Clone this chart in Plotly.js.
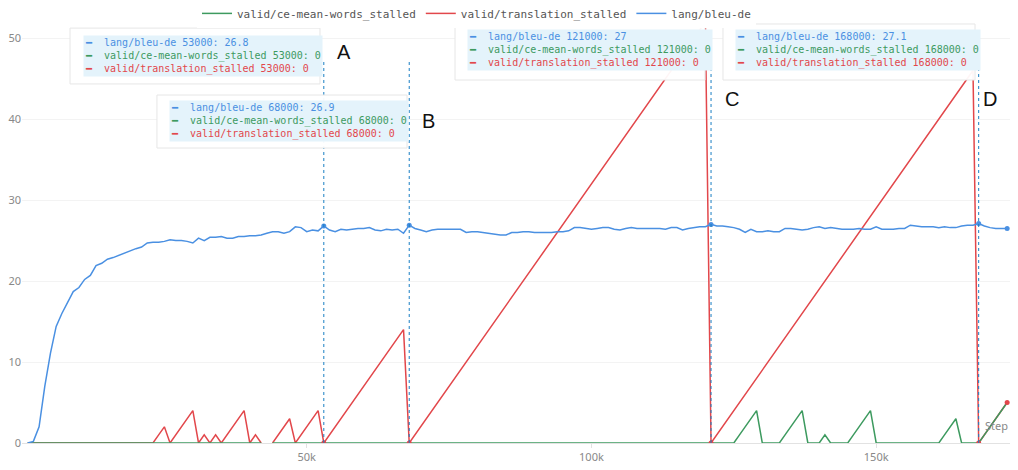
<!DOCTYPE html>
<html>
<head>
<meta charset="utf-8">
<script src="https://cdn.plot.ly/plotly-3.0.1.min.js"></script>
<style>html,body{margin:0;padding:0;background:#fff;} #chart{width:1018px;height:470px;}</style>
</head>
<body>
<div id="chart"></div>
<script>
// step axis: 1000 .. 173000
var steps = Array.from({length: 173}, function(_, i) { return (i + 1) * 1000; });

var bleu_de = [
	0,0.2,2.0,7.0,11.1,14.4,16.0,17.3,18.7,19.2,
	20.2,20.7,21.9,22.2,22.7,22.9,23.2,23.4,23.7,24.0,
	24.2,24.7,24.8,24.8,24.9,25.1,25.0,25.0,24.9,24.7,
	25.3,25.0,25.4,25.4,25.5,25.3,25.3,25.5,25.5,25.6,
	25.6,25.7,25.9,26.1,26.1,25.9,26.1,26.7,26.6,26.1,
	26.3,26.2,26.8,26.3,26.1,26.4,26.3,26.4,26.5,26.5,
	26.6,26.3,26.2,26.4,26.3,26.4,25.9,26.9,26.5,26.3,
	26.1,26.3,26.4,26.4,26.4,26.4,26.4,26.0,26.1,26.1,
	26.0,25.9,25.8,25.7,25.7,26.0,26.0,26.1,26.1,26.0,
	26.0,26.0,26.0,26.1,26.1,26.2,26.6,26.6,26.5,26.4,
	26.5,26.6,26.6,26.4,26.3,26.5,26.6,26.5,26.5,26.5,
	26.5,26.5,26.4,26.6,26.6,26.3,26.5,26.6,26.7,26.7,
	27.0,26.8,26.8,26.7,26.6,26.4,26.0,26.4,26.1,26.1,
	26.2,26.1,26.1,26.5,26.5,26.4,26.3,26.4,26.6,26.7,
	26.5,26.6,26.5,26.4,26.4,26.4,26.5,26.4,26.4,26.7,
	26.4,26.4,26.4,26.5,26.5,26.9,26.8,26.7,26.7,26.7,
	26.6,26.7,26.6,26.6,26.8,26.9,26.9,27.1,26.8,26.6,
	26.5,26.5,26.5
];

var translation_stalled = [
	0,0,0,0,0,0,0,0,0,0,
	0,0,0,0,0,0,0,0,0,0,
	0,0,0,1,2,0,1,2,3,4,
	0,1,0,1,0,1,2,3,4,0,
	1,0,null,0,1,2,3,0,1,2,
	3,4,0,1,2,3,4,5,6,7,
	8,9,10,11,12,13,14,0,1,2,
	3,4,5,6,7,8,9,10,11,12,
	13,14,15,16,17,18,19,20,21,22,
	23,24,25,26,27,28,29,30,31,32,
	33,34,35,36,37,38,39,40,41,42,
	43,44,45,46,47,48,49,50,51,52,
	0,1,2,3,4,5,6,7,8,9,
	10,11,12,13,14,15,16,17,18,19,
	20,21,22,23,24,25,26,27,28,29,
	30,31,32,33,34,35,36,37,38,39,
	40,41,42,43,44,45,46,0,1,2,
	3,4,5
];

var ce_mean_words_stalled = [
	0,0,0,0,0,0,0,0,0,0,
	0,0,0,0,0,0,0,0,0,0,
	0,0,0,0,0,0,0,0,0,0,
	0,0,0,0,0,0,0,0,0,0,
	0,0,null,0,0,0,0,0,0,0,
	0,0,0,0,0,0,0,0,0,0,
	0,0,0,0,0,0,0,0,0,0,
	0,0,0,0,0,0,0,0,0,0,
	0,0,0,0,0,0,0,0,0,0,
	0,0,0,0,0,0,0,0,0,0,
	0,0,0,0,0,0,0,0,0,0,
	0,0,0,0,0,0,0,0,0,0,
	0,0,0,0,0,1,2,3,4,0,
	0,0,0,1,2,3,4,0,0,0,
	1,0,0,0,0,1,2,3,4,0,
	0,0,0,0,0,0,0,0,0,0,
	0,1,2,3,0,0,0,0,1,2,
	3,4,5
];

// hovered steps and their labels
var marked_steps = [53000, 68000, 121000, 168000];
var marked_labels = ['A', 'B', 'C', 'D'];

var BLUE = '#4a90e2', GREEN = '#3d9a5f', RED = '#e2474b';

function idx(s) { return steps.indexOf(s); }

var trace_red = { x: steps, y: translation_stalled, type: 'scatter', mode: 'lines', legendrank: 2,
	name: 'valid/translation_stalled', line: { color: RED, width: 1.5 } };
var trace_green = { x: steps, y: ce_mean_words_stalled, type: 'scatter', mode: 'lines', legendrank: 1,
	name: 'valid/ce-mean-words_stalled', line: { color: GREEN, width: 1.5 } };
var trace_blue = { x: steps, y: bleu_de, type: 'scatter', mode: 'lines', legendrank: 3,
	name: 'lang/bleu-de', line: { color: BLUE, width: 1.5 } };

// dots at hovered steps and at the last step
var dot_steps = marked_steps.concat([steps[steps.length - 1]]);
var trace_dots_red = { x: dot_steps, y: dot_steps.map(function(s) { return translation_stalled[idx(s)]; }),
	mode: 'markers', showlegend: false, marker: { color: RED, size: 5 } };
var trace_dots_blue = { x: dot_steps, y: dot_steps.map(function(s) { return bleu_de[idx(s)]; }),
	mode: 'markers', showlegend: false, marker: { color: BLUE, size: 5 } };

// tooltip boxes (paper coords)
var boxes = [
	{ x0: 0.0486, x1: 0.3016, y0: 0.861, y1: 0.995, tx: 0.0617, ty: 0.928, lx: 56500, ly: 48.3 },
	{ x0: 0.1366, x1: 0.3897, y0: 0.7074, y1: 0.8345, tx: 0.1488, ty: 0.772, lx: 71400, ly: 39.8 },
	{ x0: 0.4383, x1: 0.6913, y0: 0.8705, y1: 1.0048, tx: 0.4504, ty: 0.9424, lx: 124600, ly: 42.5 },
	{ x0: 0.7095, x1: 0.9646, y0: 0.8705, y1: 1.0048, tx: 0.7217, ty: 0.9424, lx: 170000, ly: 42.5 }
];

var shapes = [], annotations = [];
marked_steps.forEach(function(s, i) {
	shapes.push({ type: 'line', xref: 'x', yref: 'paper', x0: s, x1: s, y0: 0, y1: 0.92,
		line: { color: '#1a7fc4', width: 1, dash: 'dot' } });
	var b = boxes[i];
	shapes.push({ type: 'rect', xref: 'paper', yref: 'paper', x0: b.x0, x1: b.x1, y0: b.y0, y1: b.y1,
		fillcolor: 'rgba(255,255,255,0.95)', line: { color: '#e6e6e6', width: 1 } });
	var k = idx(s);
	var txt = '<span style="color:' + BLUE + '">━  lang/bleu-de ' + s + ': ' + bleu_de[k] + '</span><br>' +
		'<span style="color:' + GREEN + '">━  valid/ce-mean-words_stalled ' + s + ': ' + ce_mean_words_stalled[k] + '</span><br>' +
		'<span style="color:' + RED + '">━  valid/translation_stalled ' + s + ': ' + translation_stalled[k] + '</span>';
	annotations.push({ xref: 'paper', yref: 'paper', x: b.tx, y: b.ty, xanchor: 'left', yanchor: 'middle',
		text: txt, showarrow: false, align: 'left', bgcolor: '#e4f3fb', borderpad: 1,
		font: { family: 'DejaVu Sans Mono, monospace', size: 10 } });
	annotations.push({ xref: 'x', yref: 'y', x: b.lx, y: b.ly, text: marked_labels[i], showarrow: false,
		font: { family: 'Liberation Sans, Arial, sans-serif', size: 20, color: '#111' } });
});
annotations.push({ xref: 'paper', yref: 'y', x: 1.0, y: 1.0, xanchor: 'right', yanchor: 'bottom',
	text: 'Step', showarrow: false, font: { family: 'Noto Sans, sans-serif', size: 11, color: '#888' } });

var layout = {
	width: 1018, height: 470,
	margin: { l: 22, r: 8, t: 26, b: 27, autoexpand: false },
	paper_bgcolor: '#fff', plot_bgcolor: '#fff',
	showlegend: true,
	legend: { orientation: 'h', x: 0.46, xanchor: 'center', y: 1.065, yanchor: 'top',
		font: { family: 'DejaVu Sans Mono, monospace', size: 11, color: '#555' }, traceorder: 'normal' },
	xaxis: { range: [0, 173500], tickvals: [50000, 100000, 150000], ticktext: ['50k', '100k', '150k'],
		showgrid: false, zeroline: false, showline: true, linecolor: '#e2e2e2', ticks: 'outside',
		ticklen: 4, tickcolor: '#e2e2e2', tickfont: { family: 'Noto Sans, sans-serif', size: 11, color: '#888' } },
	yaxis: { range: [0, 51.5], tickvals: [0, 10, 20, 30, 40, 50], showgrid: true, gridcolor: '#f3f3f3',
		zeroline: false, ticks: '', tickfont: { family: 'Noto Sans, sans-serif', size: 11, color: '#888' } },
	shapes: shapes,
	annotations: annotations
};

Plotly.newPlot('chart', [trace_red, trace_green, trace_blue, trace_dots_red, trace_dots_blue], layout,
	{ displayModeBar: false, staticPlot: true });
</script>
</body>
</html>
